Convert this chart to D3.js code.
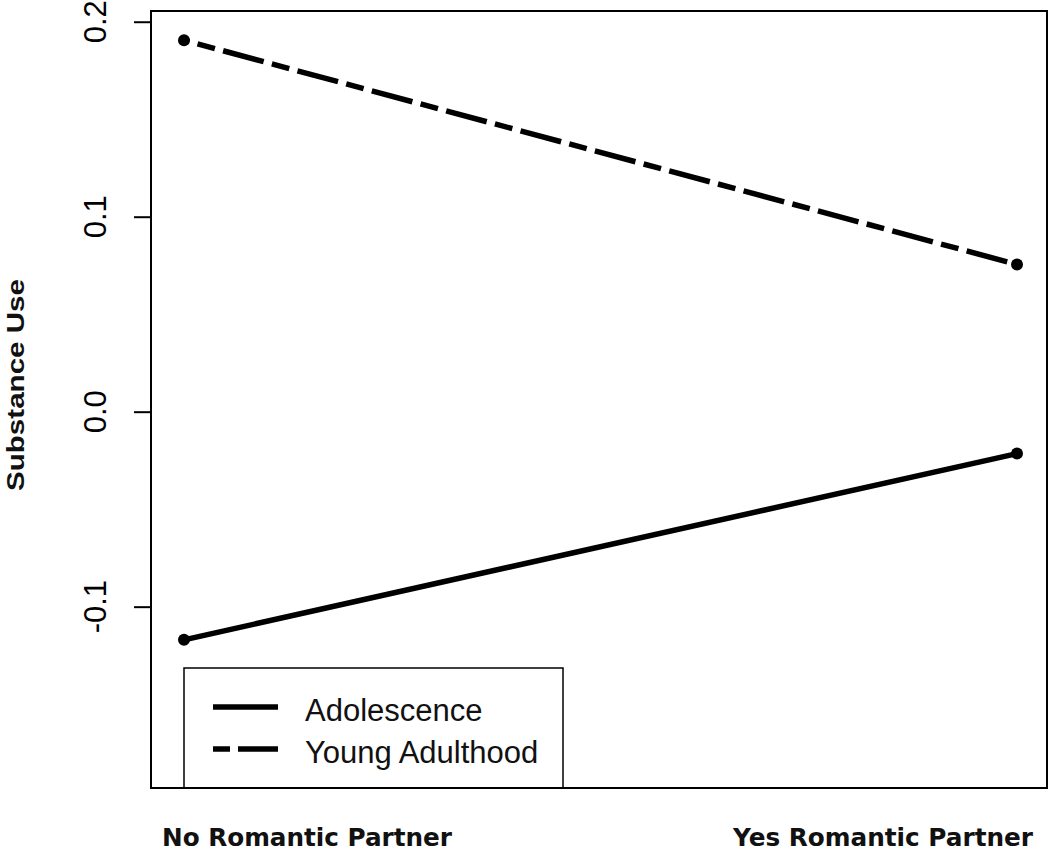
<!DOCTYPE html>
<html>
<head>
<meta charset="utf-8">
<script src="https://cdn.jsdelivr.net/npm/d3@7"></script>
<style>
html,body{margin:0;padding:0;background:#fff;}
svg{display:block;}
</style>
</head>
<body>
<svg id="chart" width="1050" height="851"></svg>
<script>
// ---- data ----
const categories = ["No Romantic Partner", "Yes Romantic Partner"];
const adolescence = [-0.117, -0.0215];
const youngAdulthood = [0.1905, 0.0755];
const seriesNames = ["Adolescence", "Young Adulthood"];
const yTicks = [0.2, 0.1, 0.0, -0.1];
const yTickLabels = ["0.2", "0.1", "0.0", "-0.1"];
const yTitle = "Substance Use";

// ---- layout ----
const svg = d3.select("#chart");
const box = {left: 151, right: 1047, top: 11, bottom: 788};
const x = d3.scalePoint().domain(categories).range([184, 1017]);
const y = d3.scaleLinear().domain([-0.193, 0.2055]).range([box.bottom, box.top]);

const dashPattern = "18,8.5,42,8.5";
const lw = 5.5;

// plot box
svg.append("rect")
  .attr("x", box.left).attr("y", box.top)
  .attr("width", box.right - box.left).attr("height", box.bottom - box.top)
  .attr("fill", "none").attr("stroke", "#000").attr("stroke-width", 2);

// y axis ticks
const yAxis = d3.axisLeft(y).tickValues(yTicks).tickSize(17).tickFormat("");
const gy = svg.append("g").attr("transform", `translate(${box.left},0)`).call(yAxis);
gy.select(".domain").remove();
gy.selectAll(".tick line").attr("stroke", "#000").attr("stroke-width", 2);

// y tick labels (rotated)
yTicks.forEach((v, i) => {
  svg.append("text")
    .attr("transform", `translate(106,${y(v)}) rotate(-90)`)
    .attr("text-anchor", "middle")
    .attr("font-family", "Liberation Sans, Arial, sans-serif")
    .attr("font-size", 31)
    .attr("fill", "#000")
    .text(yTickLabels[i]);
});

// y title
svg.append("text")
  .attr("transform", `translate(24,385) rotate(-90)`)
  .attr("text-anchor", "middle")
  .attr("font-family", "Liberation Sans, Arial, sans-serif")
  .attr("font-weight", "bold")
  .attr("font-size", 23)
  .attr("textLength", 212)
  .attr("lengthAdjust", "spacingAndGlyphs")
  .attr("fill", "#111")
  .text(yTitle);

// lines
const line = d3.line().x((d, i) => x(categories[i])).y(d => y(d));
svg.append("path").datum(adolescence)
  .attr("d", line).attr("fill", "none").attr("stroke", "#000")
  .attr("stroke-width", lw);
svg.append("path").datum(youngAdulthood)
  .attr("d", line).attr("fill", "none").attr("stroke", "#000")
  .attr("stroke-width", lw).attr("stroke-dasharray", dashPattern)
  .attr("stroke-dashoffset", -14);

// points
[adolescence, youngAdulthood].forEach(s => {
  svg.selectAll(null).data(s).enter().append("circle")
    .attr("cx", (d, i) => x(categories[i]))
    .attr("cy", d => y(d))
    .attr("r", 6)
    .attr("fill", "#000");
});

// legend
const leg = svg.append("g");
leg.append("rect")
  .attr("x", 184).attr("y", 668).attr("width", 379).attr("height", box.bottom - 668)
  .attr("fill", "#fff").attr("stroke", "#000").attr("stroke-width", 1.5);
const legY = [707, 749];
seriesNames.forEach((name, i) => {
  leg.append("line")
    .attr("x1", 213).attr("x2", 278).attr("y1", legY[i]).attr("y2", legY[i])
    .attr("stroke", "#000").attr("stroke-width", lw)
    .attr("stroke-dasharray", i === 1 ? "17,8,42,8" : null);
  leg.append("text")
    .attr("x", 305).attr("y", legY[i] + 14)
    .attr("font-family", "Liberation Sans, Arial, sans-serif")
    .attr("font-size", 31)
    .attr("fill", "#111")
    .text(name);
});
// redraw bottom border of plot over legend
svg.append("line")
  .attr("x1", box.left).attr("x2", box.right).attr("y1", box.bottom).attr("y2", box.bottom)
  .attr("stroke", "#000").attr("stroke-width", 2);

// x category labels
const xLabelPos = [162, 733];
const xLabelLen = [290, 300];
categories.forEach((c, i) => {
  svg.append("text")
    .attr("x", xLabelPos[i]).attr("y", 846)
    .attr("font-family", "DejaVu Sans, sans-serif")
    .attr("font-weight", "bold")
    .attr("font-size", 24)
    .attr("textLength", xLabelLen[i])
    .attr("lengthAdjust", "spacingAndGlyphs")
    .attr("fill", "#111")
    .text(c);
});
</script>
</body>
</html>
